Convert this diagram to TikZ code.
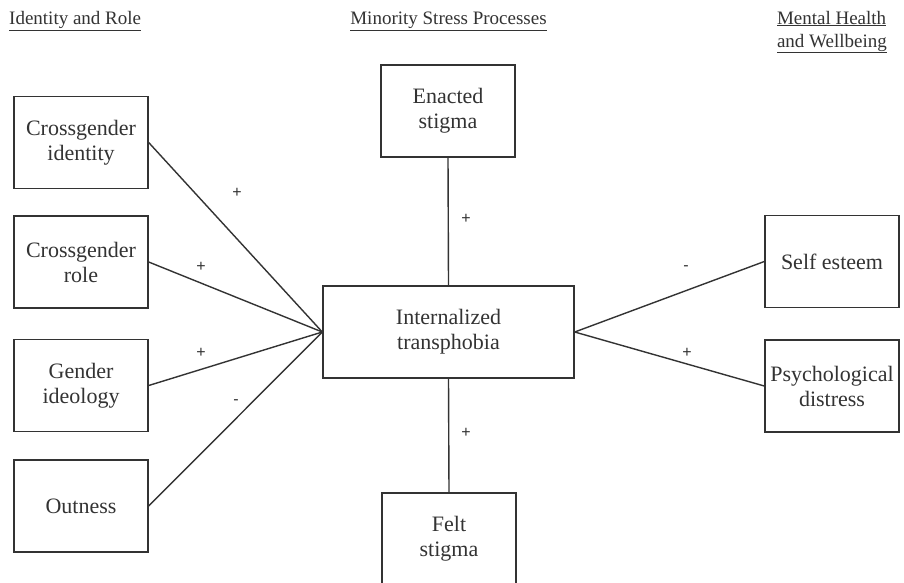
\documentclass[tikz,border=0pt]{standalone}
\usepackage{fontspec}
\setmainfont{Liberation Serif}
\newfontfamily\plusfont{Liberation Sans}
\definecolor{linec}{HTML}{333333}
\definecolor{textc}{HTML}{333333}
\begin{document}
\begin{tikzpicture}[x=1pt,y=-1pt,
  box/.style={draw=linec, line width=1.4pt, minimum width=134pt, minimum height=92pt,
    align=center, font=\fontsize{22}{25}\selectfont, text=textc, inner sep=0pt},
  conn/.style={draw=linec, line width=1.4pt},
  sign/.style={font=\plusfont\fontsize{16}{18}\selectfont, text=textc, inner sep=0pt},
  header/.style={font=\fontsize{19}{23}\selectfont, text=textc, inner sep=0pt, align=center}]
\useasboundingbox (0,0) rectangle (904,582);
\clip (0,0) rectangle (904,582);
\fill[white] (0,0) rectangle (904,582);

% headers
\node[header, anchor=west] (h1) at (9,21) {\underline{Identity and Role}};
\node[header] (h2) at (448.5,21) {\underline{Minority Stress Processes}};
\node[header, align=left, anchor=east] (h3) at (887,32) {\underline{Mental Health}\\\underline{and Wellbeing}};

% boxes
\node[box] (ci) at (81,142.5) {Crossgender\\identity};
\node[box] (cr) at (81,262) {Crossgender\\role};
\node[box] (gi) at (81,385.5) {Gender\\ideology};
\node[box] (ou) at (81,506) {Outness};
\node[box] (es) at (448,111) {Enacted\\stigma};
\node[box, minimum width=251pt] (it) at (448.5,332) {Internalized\\transphobia};
\node[box] (fs) at (449,539) {Felt\\stigma};
\node[box] (se) at (832,261.5) {Self esteem};
\node[box] (pd) at (832,386) {Psychological\\distress};

% connectors
\draw[conn] (ci.east) -- (it.west);
\draw[conn] (cr.east) -- (it.west);
\draw[conn] (gi.east) -- (it.west);
\draw[conn] (ou.east) -- (it.west);
\draw[conn] (es.south) -- (it.north);
\draw[conn] (fs.north) -- (it.south);
\draw[conn] (it.east) -- (se.west);
\draw[conn] (it.east) -- (pd.west);

% signs
\node[sign] (s1) at (237,193) {+};
\node[sign] (s2) at (201,267) {+};
\node[sign] (s3) at (201,353) {+};
\node[sign] (s4) at (236,402) {-};
\node[sign] (s5) at (466,219) {+};
\node[sign] (s6) at (466,433) {+};
\node[sign] (s7) at (686,268) {-};
\node[sign] (s8) at (687,353) {+};
\end{tikzpicture}
\end{document}
